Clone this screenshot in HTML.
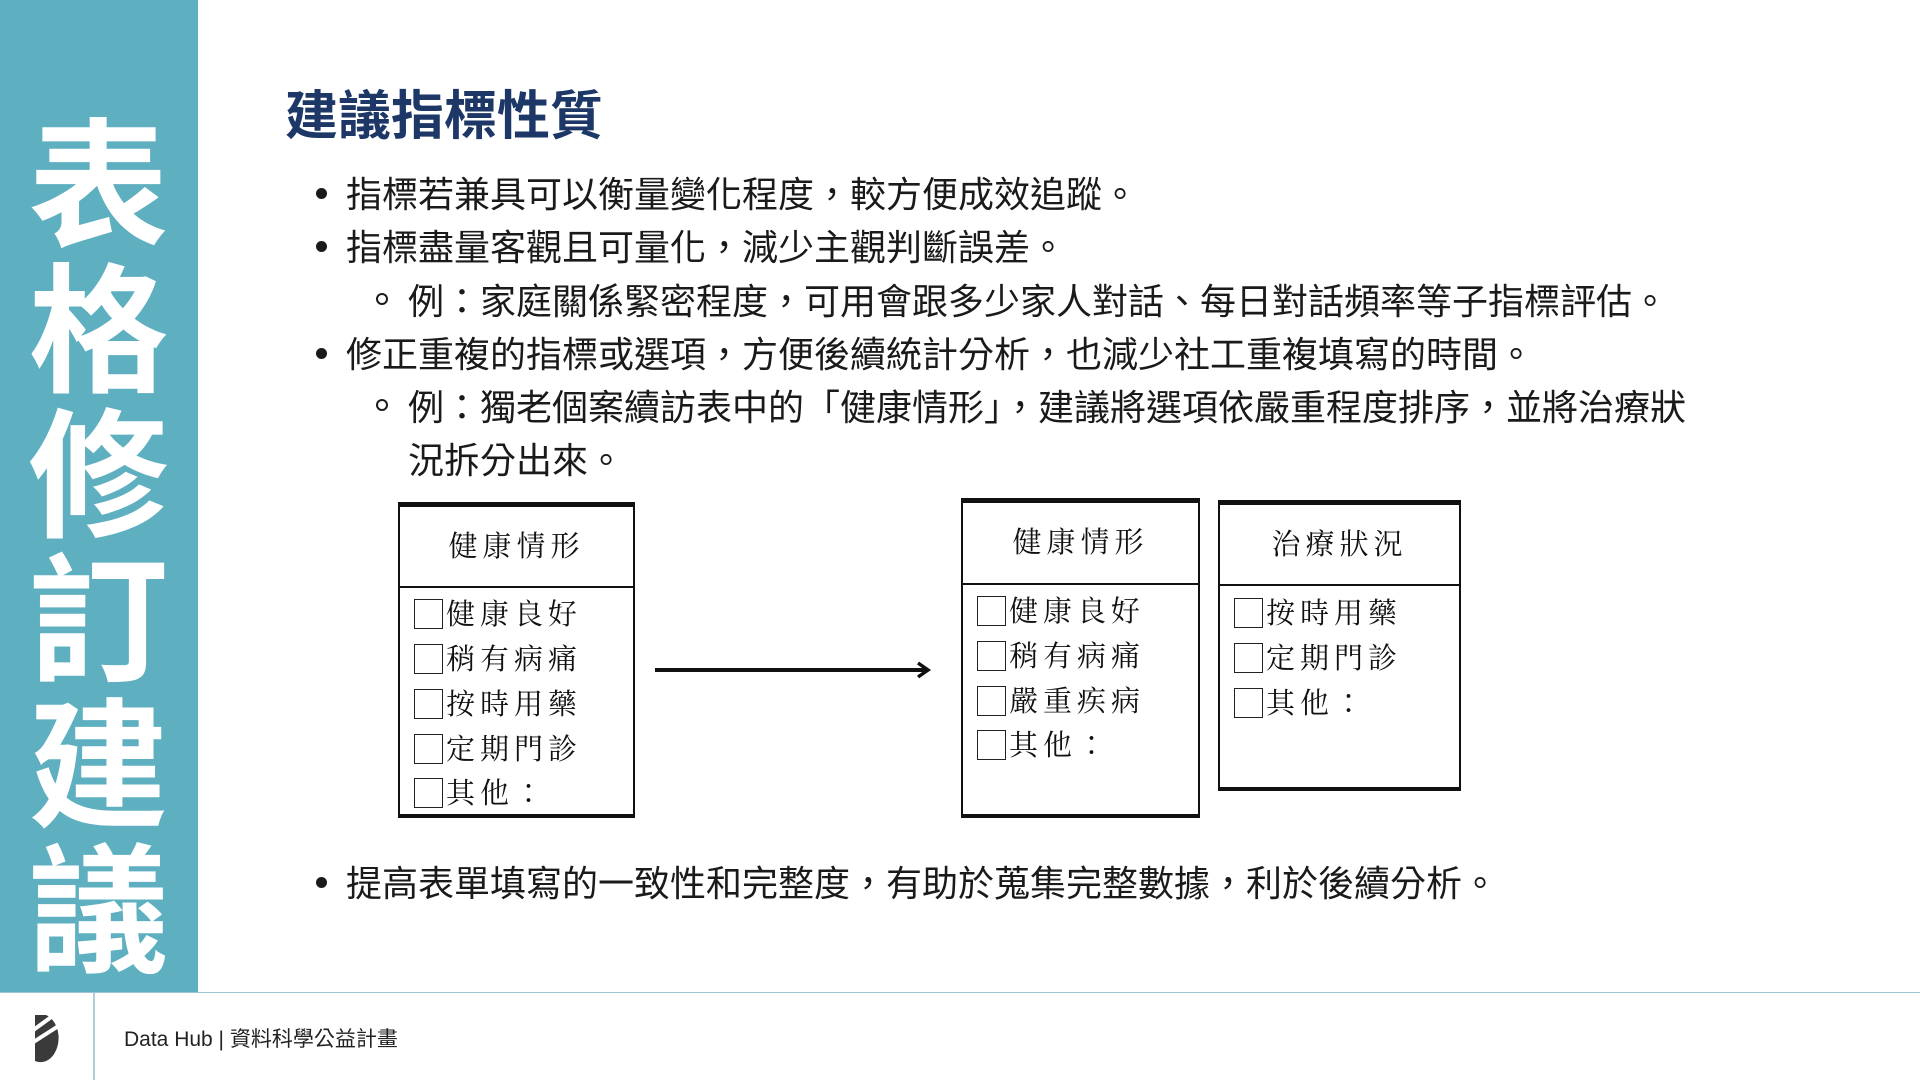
<!DOCTYPE html>
<html><head><meta charset="utf-8"><style>
*{margin:0;padding:0;box-sizing:border-box}
body{width:1920px;height:1080px;position:relative;background:#fff;overflow:hidden;font-family:"Liberation Sans","Noto Sans CJK TC",sans-serif;color:#1a1a1a}
.side{position:absolute;left:0;top:0;width:198px;height:992px;background:#5eafc0}
.side div{position:absolute;left:26px;width:145px;font-size:140px;line-height:145px;font-weight:bold;color:#fff;text-align:center;font-family:"Noto Sans CJK TC",sans-serif}
.foot{position:absolute;left:0;top:992px;width:1920px;height:1px;background:#9cc3cf}
.fdiv{position:absolute;left:93px;top:993px;width:2px;height:87px;background:#b0cdd6}
.ftxt{position:absolute;left:124px;top:1023px;font-size:21px;color:#222}
h1{position:absolute;left:285px;top:80px;font-size:53px;line-height:64px;color:#1d3767;font-weight:bold;font-family:"Noto Sans CJK TC",sans-serif}
.l{position:absolute;font-size:36px;line-height:44px;white-space:nowrap;font-family:"Noto Sans CJK TC",sans-serif}
.dot{position:absolute;width:11px;height:11px;border-radius:50%;background:#1a1a1a}
.ring{position:absolute;width:12px;height:12px;border-radius:50%;border:2px solid #1a1a1a}
.t{position:absolute;border-left:2px solid #111;border-right:2px solid #111;border-top:5px solid #111;border-bottom:4px solid #111;font-family:"Liberation Serif","Noto Serif CJK TC","Noto Serif CJK SC",serif;font-size:29px;color:#111}
.t .h{position:absolute;left:0;right:0;border-bottom:2px solid #111;text-align:center;letter-spacing:5px}
.r{position:absolute;left:14px;white-space:nowrap;letter-spacing:5px;line-height:36px}
.r span{display:inline-block;width:29px;height:30px;border:1.5px solid #222;vertical-align:-5px;margin-right:3px}
</style></head><body>
<div class="side">
<div style="top:104px">表</div><div style="top:249px">格</div><div style="top:394px">修</div><div style="top:539px">訂</div><div style="top:684px">建</div><div style="top:829px;height:148px;overflow:hidden">議</div>
</div>
<div class="foot"></div><div class="fdiv"></div>
<svg style="position:absolute;left:32px;top:1013px" width="34" height="50" viewBox="0 0 34 50"><path d="M3 2 L14 2 A18 24 0 0 1 3 48 Z" fill="#3a3a3a"/><path d="M0 18 L22 2 M0 30 L28 12" stroke="#fff" stroke-width="4"/></svg>
<div class="ftxt">Data Hub | 資料科學公益計畫</div>
<h1>建議指標性質</h1>
<div class="dot" style="left:316px;top:188px"></div><div class="l" style="left:346px;top:170px">指標若兼具可以衡量變化程度，較方便成效追蹤。</div>
<div class="dot" style="left:316px;top:241px"></div><div class="l" style="left:346px;top:223px">指標盡量客觀且可量化，減少主觀判斷誤差。</div>
<div class="ring" style="left:376px;top:293px"></div><div class="l" style="left:408px;top:277px">例：家庭關係緊密程度，可用會跟多少家人對話、每日對話頻率等子指標評估。</div>
<div class="dot" style="left:316px;top:348px"></div><div class="l" style="left:346px;top:330px">修正重複的指標或選項，方便後續統計分析，也減少社工重複填寫的時間。</div>
<div class="ring" style="left:376px;top:399px"></div><div class="l" style="left:408px;top:383px">例：獨老個案續訪表中的「健康情形」，建議將選項依嚴重程度排序，並將治療狀</div>
<div class="l" style="left:408px;top:436px">況拆分出來。</div>
<div class="dot" style="left:316px;top:877px"></div><div class="l" style="left:346px;top:859px">提高表單填寫的一致性和完整度，有助於蒐集完整數據，利於後續分析。</div>

<div class="t" style="left:398px;top:502px;width:237px;height:316px">
<div class="h" style="top:0;height:81px;line-height:80px">健康情形</div>
<div class="r" style="top:90px"><span></span>健康良好</div>
<div class="r" style="top:135px"><span></span>稍有病痛</div>
<div class="r" style="top:180px"><span></span>按時用藥</div>
<div class="r" style="top:225px"><span></span>定期門診</div>
<div class="r" style="top:269px"><span></span>其他：</div>
</div>
<svg style="position:absolute;left:650px;top:655px" width="290" height="30"><line x1="5" y1="15" x2="276" y2="15" stroke="#111" stroke-width="4"/><path d="M268 8 L278 15 L268 22" fill="none" stroke="#111" stroke-width="3.5"/></svg>
<div class="t" style="left:961px;top:498px;width:239px;height:320px">
<div class="h" style="top:0;height:82px;line-height:80px">健康情形</div>
<div class="r" style="top:91px"><span></span>健康良好</div>
<div class="r" style="top:136px"><span></span>稍有病痛</div>
<div class="r" style="top:181px"><span></span>嚴重疾病</div>
<div class="r" style="top:225px"><span></span>其他：</div>
</div>
<div class="t" style="left:1218px;top:500px;width:243px;height:291px">
<div class="h" style="top:0;height:81px;line-height:80px">治療狀況</div>
<div class="r" style="top:91px"><span></span>按時用藥</div>
<div class="r" style="top:136px"><span></span>定期門診</div>
<div class="r" style="top:181px"><span></span>其他：</div>
</div>
</body></html>
